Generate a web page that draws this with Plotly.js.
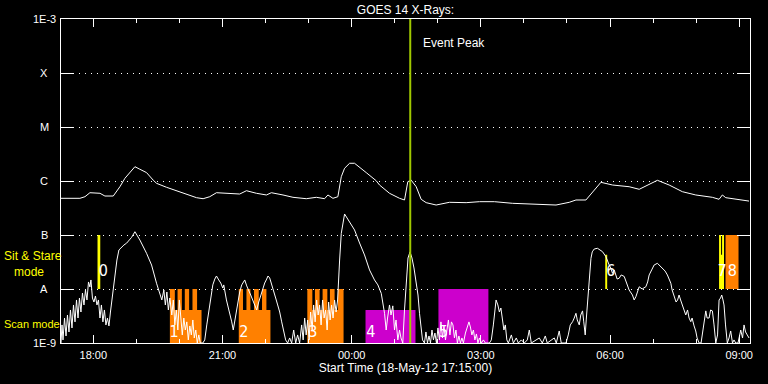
<!DOCTYPE html>
<html>
<head>
<meta charset="utf-8">
<script src="https://cdn.plot.ly/plotly-3.0.1.min.js"></script>
<style>html,body{margin:0;padding:0;background:#000;}#chart{width:768px;height:384px;}</style>
</head>
<body>
<div id="chart"></div>
<script>
// x values: minutes elapsed since the start time 18-May-12 17:15:00
const xTickVals = [45, 225, 405, 585, 765, 945];
const xTickText = ['18:00', '21:00', '00:00', '03:00', '06:00', '09:00'];
const yTickVals = [1e-9, 1e-8, 1e-7, 1e-6, 1e-5, 1e-4, 1e-3];
const yTickText = ['1E-9', 'A', 'B', 'C', 'M', 'X', '1E-3'];

// GOES 14 long channel (upper curve)
const longMin = [0,26.4,33.4,40.3,54.3,61.2,72.8,82.1,89.0,96.0,103.0,109.9,119.2,128.4,133.1,147.1,161.0,174.9,188.8,198.0,207.3,216.6,235.1,249.0,258.4,272.3,286.2,293.1,309.3,323.2,341.8,355.8,367.3,371.9,378.9,385.8,390.5,395.1,402.1,409.0,425.3,439.2,443.8,457.7,471.7,478.6,483.2,487.9,494.9,501.8,508.8,522.7,541.2,564.5,583.0,603.8,629.3,657.1,689.7,708.2,717.5,731.4,740.6,752.3,768.4,791.6,805.6,814.9,831.0,847.3,865.8,884.4,907.5,916.9,921.5,926.2,940.1,956.2,958.6];
const longFlux = [4.78e-7,4.78e-7,5.12e-7,6.07e-7,5.92e-7,5.27e-7,5.27e-7,7.84e-7,1.12e-6,1.43e-6,1.84e-6,1.65e-6,1.43e-6,1.04e-6,9.06e-7,7.64e-7,6.61e-7,5.74e-7,4.91e-7,4.70e-7,5.12e-7,6.07e-7,5.92e-7,5.74e-7,6.61e-7,5.92e-7,5.51e-7,6.07e-7,5.51e-7,4.99e-7,4.70e-7,4.99e-7,4.70e-7,5.51e-7,4.78e-7,5.12e-7,1.20e-6,1.72e-6,2.13e-6,2.13e-6,1.43e-6,1.01e-6,8.43e-7,5.92e-7,4.78e-7,4.45e-7,9.7e-7,1.04e-6,7.84e-7,4.58e-7,3.97e-7,3.59e-7,4.03e-7,3.97e-7,4.14e-7,4.14e-7,3.86e-7,3.75e-7,3.59e-7,4.03e-7,4.45e-7,4.45e-7,6.34e-7,9.46e-7,8.43e-7,7.84e-7,7.02e-7,8.07e-7,1.03e-6,8.43e-7,6.34e-7,5.51e-7,4.99e-7,4.58e-7,5.51e-7,4.91e-7,4.58e-7,4.31e-7,4.25e-7];

// GOES 14 short channel (lower curve)
const shortMin = [0,1.4,2.8,4.9,7.0,9.0,11.1,13.2,15.3,17.4,19.5,21.6,23.7,25.7,27.8,29.9,32.0,34.1,36.2,38.3,40.3,41.7,43.8,45.9,48.0,50.1,52.2,54.3,56.3,58.4,60.5,62.6,64.7,66.8,68.9,71.0,73.0,75.1,77.9,80.7,84.5,87.7,91.4,98.4,103.0,109.9,119.2,126.2,133.1,137.7,140.5,143.3,145.4,147.5,149.6,151.7,154.4,156.5,158.6,160.7,162.8,164.9,167.0,169.0,171.1,173.2,175.3,177.4,179.5,181.6,183.7,185.7,187.8,189.9,192.0,194.1,197.6,200.3,203.1,205.9,208.7,211.5,214.3,216.6,219.8,222.6,225.4,226.8,230.5,232.3,235.1,237.9,240.0,242.1,244.2,246.3,249.0,251.8,254.6,256.0,258.8,261.6,264.3,267.1,269.9,272.7,275.5,278.3,281.0,283.8,286.6,288.4,290.8,293.6,296.3,299.1,301.9,304.7,307.5,310.3,313.0,315.8,318.6,321.4,324.2,327.0,329.7,332.5,335.3,337.4,339.5,341.6,343.7,345.7,347.8,349.9,352.0,354.1,356.2,358.3,360.3,362.4,364.5,366.6,368.7,370.8,372.9,375.0,377.0,379.1,381.2,383.3,385.4,388.2,390.5,395.1,402.1,409.0,416.0,422.9,429.9,436.8,441.5,446.2,450.8,453.1,455.0,457.7,459.8,462.3,464.7,466.8,469.3,471.7,473.7,476.2,478.6,481.0,483.5,486.3,489.0,491.8,494.9,497.4,499.5,501.6,503.7,506.4,508.5,510.6,512.7,514.8,516.9,518.9,521.0,523.1,525.2,527.3,529.4,531.5,533.6,535.7,537.7,539.8,541.9,544.0,546.1,548.2,550.3,552.3,554.4,556.5,558.6,560.7,563.5,566.3,568.4,570.4,572.5,574.6,576.7,578.8,580.9,583.0,585.7,588.5,591.3,596.9,599.6,602.4,606.2,608.7,610.8,612.9,615.0,617.1,619.1,621.2,623.3,627.5,630.3,634.4,637.2,641.4,645.6,649.7,652.5,655.3,666.4,670.6,674.8,677.5,687.3,690.1,694.2,697.0,703.6,706.8,709.6,712.8,715.1,717.5,719.3,722.1,724.2,726.7,728.4,730.4,731.8,733.6,736.0,738.4,740.2,743.0,747.5,751.3,754.5,759.2,761.7,763.8,765.9,768.4,770.8,773.1,774.9,777.7,780.5,784.7,789.3,791.6,796.2,798.6,801.0,802.8,805.6,809.7,814.9,817.4,819.5,823.0,826.4,831.0,834.8,838.0,841.7,844.9,847.3,849.7,851.5,854.3,857.0,859.1,861.2,863.3,865.8,868.2,870.5,873.0,875.1,877.5,879.3,882.1,884.4,886.3,889.1,891.8,894.6,896.7,898.4,900.2,903.0,905.1,907.6,909.9,912.3,914.8,916.9,919.0,920.6,922.4,923.8,925.9,928.4,930.8,933.1,935.6,937.7,940.1,943.3,947.1,949.6,951.7,953.8,956.2,958.6];
const shortFlux = [1.0e-9,2.16e-9,1.14e-9,2.90e-9,1.35e-9,3.30e-9,1.60e-9,4.09e-9,1.90e-9,5.06e-9,2.46e-9,6.26e-9,2.90e-9,6.81e-9,3.75e-9,8.43e-9,5.06e-9,9.58e-9,6.26e-9,1.35e-8,1.09e-8,1.47e-8,6.81e-9,5.74e-9,7.42e-9,5.06e-9,6.26e-9,2.90e-9,5.06e-9,2.46e-9,4.09e-9,2.16e-9,2.90e-9,2.07e-9,3.75e-9,6.26e-9,9.58e-9,1.82e-8,3.44e-8,5.28e-8,6.07e-8,6.53e-8,7.06e-8,9.06e-8,1.15e-7,8.07e-8,4.58e-8,2.78e-8,1.28e-8,8.32e-9,6.26e-9,9.58e-9,5.06e-9,8.80e-9,4.09e-9,6.81e-9,3.30e-9,6.26e-9,2.16e-9,4.09e-9,1.74e-9,6.26e-9,2.67e-9,1.41e-9,2.90e-9,1.74e-9,2.46e-9,1.14e-9,2.07e-9,1.41e-9,2.67e-9,1.24e-9,1.74e-9,1.0e-9,1.41e-9,1.0e-9,1.0e-9,1.14e-9,2.16e-9,4.09e-9,7.74e-9,1.19e-8,1.53e-8,1.74e-8,1.47e-8,1.29e-8,1.04e-8,1.19e-8,6.26e-9,5.06e-9,3.55e-9,2.46e-9,1.74e-9,2.67e-9,4.09e-9,6.26e-9,8.80e-9,1.19e-8,1.35e-8,1.47e-8,1.14e-8,9.58e-9,7.74e-9,6.26e-9,5.06e-9,4.09e-9,5.74e-9,7.74e-9,1.04e-8,1.29e-8,1.53e-8,1.74e-8,1.60e-8,1.24e-8,9.58e-9,6.81e-9,5.06e-9,3.75e-9,2.46e-9,1.60e-9,1.14e-9,1.0e-9,1.24e-9,1.0e-9,1.74e-9,1.0e-9,1.41e-9,1.0e-9,2.16e-9,1.14e-9,2.90e-9,1.41e-9,2.67e-9,1.14e-9,3.75e-9,1.74e-9,5.06e-9,2.46e-9,6.26e-9,3.30e-9,5.06e-9,2.16e-9,6.26e-9,2.90e-9,4.09e-9,1.74e-9,5.74e-9,2.67e-9,5.06e-9,2.90e-9,6.26e-9,3.75e-9,6.26e-9,3.44e-8,1.07e-7,2.45e-7,1.74e-7,1.24e-7,7.11e-8,4.27e-8,2.25e-8,1.47e-8,1.19e-8,8.32e-9,3.55e-9,1.74e-9,2.90e-9,5.06e-9,3.30e-9,4.87e-9,1.74e-9,2.67e-9,1.14e-9,1.74e-9,1.24e-9,1.0e-9,4.09e-9,1.47e-8,3.75e-8,4.87e-8,3.75e-8,2.45e-8,1.37e-8,7.74e-9,3.55e-9,1.90e-9,1.14e-9,1.0e-9,1.60e-9,1.0e-9,1.35e-9,1.0e-9,1.74e-9,1.14e-9,1.53e-9,1.0e-9,1.90e-9,1.14e-9,2.46e-9,1.24e-9,2.07e-9,1.14e-9,1.74e-9,2.67e-9,1.41e-9,2.46e-9,2.16e-9,1.24e-9,1.74e-9,1.0e-9,1.35e-9,1.0e-9,1.24e-9,1.0e-9,1.53e-9,2.16e-9,2.46e-9,1.98e-9,1.41e-9,1.74e-9,1.14e-9,1.47e-9,1.0e-9,1.24e-9,1.0e-9,1.14e-9,1.0e-9,1.0e-9,1.14e-9,2.16e-9,6.26e-9,5.06e-9,3.75e-9,4.45e-9,2.67e-9,1.74e-9,2.16e-9,1.14e-9,1.0e-9,1.41e-9,1.0e-9,1.24e-9,1.0e-9,1.14e-9,1.0e-9,1.14e-9,1.74e-9,1.0e-9,1.24e-9,1.0e-9,1.35e-9,1.0e-9,1.24e-9,1.0e-9,1.67e-9,1.0e-9,1.0e-9,1.41e-9,2.16e-9,2.48e-9,2.90e-9,3.55e-9,2.67e-9,2.16e-9,3.30e-9,3.93e-9,2.46e-9,1.41e-9,2.67e-9,6.02e-9,1.47e-8,3.70e-8,4.87e-8,5.51e-8,5.67e-8,5.28e-8,4.91e-8,3.97e-8,3.16e-8,2.78e-8,2.45e-8,1.95e-8,2.25e-8,1.82e-8,1.53e-8,1.58e-8,1.82e-8,1.71e-8,1.10e-8,9.58e-9,7.74e-9,6.26e-9,7.20e-9,8.80e-9,1.10e-8,1.0e-8,1.10e-8,1.35e-8,1.82e-8,2.25e-8,2.78e-8,2.99e-8,2.67e-8,2.42e-8,2.15e-8,1.82e-8,1.47e-8,1.28e-8,9.58e-9,7.20e-9,5.74e-9,6.26e-9,7.74e-9,6.26e-9,5.06e-9,3.75e-9,3.30e-9,4.09e-9,2.90e-9,2.48e-9,2.90e-9,2.07e-9,1.67e-9,1.24e-9,1.0e-9,1.0e-9,1.74e-9,2.67e-9,3.93e-9,2.90e-9,2.90e-9,4.09e-9,3.93e-9,2.16e-9,1.0e-9,1.41e-9,6.26e-9,6.81e-9,7.74e-9,6.26e-9,5.06e-9,2.16e-9,1.0e-9,1.24e-9,1.67e-9,1.0e-9,1.14e-9,1.0e-9,1.0e-9,1.74e-9,1.24e-9,2.16e-9,1.60e-9,1.41e-9,1.24e-9];

// Scan-mode rasters (orange): start, end, top flux (all from 1E-9)
const scanStart = [151.7,151.7,162.4,172.5,183.2, 247.7,247.7,258.4,268.9,280.1, 343.2,343.2,353.8,364.5,374.7,385.8];
const scanEnd   = [195.8,158.6,168.4,178.5,189.6, 291.8,253.6,263.9,275.5,286.2, 393.7,350.2,360.3,371.1,381.2,393.7];
const scanTop   = [4.1e-9,1e-8,1e-8,1e-8,1e-8, 4.1e-9,1e-8,1e-8,1e-8,1e-8, 4.1e-9,1e-8,1e-8,1e-8,1e-8,1e-8];
// Scan-mode rasters (magenta)
const rasterStart = [424.3, 525.9];
const rasterEnd   = [493.9, 595.5];
const rasterTop   = [4.1e-9, 1e-8];
// Sit & stare (yellow)
const sitStart  = [50.9, 758.3, 916.9, 919.7, 921.1];
const sitEnd    = [54.7, 761.0, 919.7, 921.1, 923.8];
const sitBottom = [1e-8, 1e-8, 1e-8, 1e-8, 1e-8];
const sitTop    = [1e-7, 4.3e-8, 1e-7, 4.3e-8, 1e-7];
// Sit & stare (orange)
const sitOrStart = [925.9], sitOrEnd = [944.0], sitOrBottom = [1e-8], sitOrTop = [1e-7];

// Observation numbers
const obsLabel = ['0','1','2','3','4','5','6','7','8'];
const obsMin   = [58.9,157.5,254.8,351.0,431.7,533.1,766.2,921.0,935.5];
const obsFlux  = [2.09e-8,1.5e-9,1.5e-9,1.55e-9,1.53e-9,1.53e-9,2.09e-8,2.09e-8,2.09e-8];

const eventPeakMin = 486.6;

function rects(s, e, b, t) {
  const x = [], y = [];
  for (let i = 0; i < s.length; i++) {
    const bot = Array.isArray(b) ? b[i] : b;
    x.push(s[i], e[i], e[i], s[i], s[i], null);
    y.push(bot, bot, t[i], t[i], bot, null);
  }
  return {x, y};
}
function fillTrace(r, color) {
  return {x: r.x, y: r.y, type: 'scatter', mode: 'lines', fill: 'toself', fillcolor: color,
          line: {width: 0, color: color}, hoverinfo: 'skip', connectgaps: false};
}

const floor = 1e-9;
const traces = [
  fillTrace(rects(scanStart, scanEnd, floor, scanTop), '#ff8000'),
  fillTrace(rects(rasterStart, rasterEnd, floor, rasterTop), '#cc00cc'),
  fillTrace(rects(sitStart, sitEnd, sitBottom, sitTop), '#ffff00'),
  fillTrace(rects(sitOrStart, sitOrEnd, sitOrBottom, sitOrTop), '#ff8000'),
  {x: longMin, y: longFlux, type: 'scatter', mode: 'lines', line: {color: '#ffffff', width: 1}},
  {x: shortMin, y: shortFlux, type: 'scatter', mode: 'lines', line: {color: '#ffffff', width: 1}},
  {x: [eventPeakMin, eventPeakMin], y: [1e-9, 1e-3], type: 'scatter', mode: 'lines', line: {color: '#a0c800', width: 2}},
  {x: obsMin, y: obsFlux, text: obsLabel, type: 'scatter', mode: 'text', textposition: 'middle center',
   textfont: {family: 'Liberation Sans Narrow, DejaVu Sans Condensed, Liberation Sans, sans-serif', size: 16, color: '#ffffff'}, cliponaxis: false}
];

const annotations = yTickVals.map((v, i) => ({
  xref: 'paper', x: -17 / 689, xanchor: 'center', yref: 'y', y: Math.log10(v), yanchor: 'middle',
  text: yTickText[i], showarrow: false, font: {size: 11, color: '#ffffff'}
}));
annotations.push(
  {xref: 'x', x: eventPeakMin, xshift: 11, xanchor: 'left', yref: 'paper', y: 0.926, yanchor: 'middle',
   text: 'Event Peak', showarrow: false, font: {size: 12, color: '#ffffff'}},
  {xref: 'paper', x: -0.0856, xanchor: 'left', yref: 'paper', y: 0.2423, yanchor: 'middle', align: 'left',
   text: 'Sit &amp; Stare<br>&nbsp;&nbsp;&nbsp;mode', showarrow: false, font: {size: 12, color: '#ffff00'}},
  {xref: 'paper', x: -0.0861, xanchor: 'left', yref: 'paper', y: 0.0586, yanchor: 'middle',
   text: 'Scan mode', showarrow: false, font: {size: 11, color: '#ffff00'}}
);

const layout = {
  width: 768, height: 384,
  paper_bgcolor: '#000000', plot_bgcolor: '#000000',
  margin: {l: 61, r: 18, t: 19, b: 41},
  showlegend: false,
  font: {family: 'Liberation Sans, Arial, sans-serif', color: '#ffffff', size: 12},
  title: {text: 'GOES 14 X-Rays:', x: 0.5, xref: 'paper', xanchor: 'center', y: 1 - 9.5 / 384, yref: 'container', yanchor: 'middle', font: {size: 12, color: '#ffffff'}},
  xaxis: {
    range: [0, 960], tickmode: 'array', tickvals: xTickVals, ticktext: xTickText,
    ticks: 'inside', ticklen: 8, tickcolor: '#ffffff', tickwidth: 1,
    showline: true, linecolor: '#ffffff', linewidth: 1, mirror: 'ticks',
    showgrid: false, zeroline: false, tickfont: {size: 11, color: '#ffffff'},
    ticklabelstandoff: 2,
    minor: {tickmode: 'linear', tick0: 45, dtick: 60, ticks: 'inside', ticklen: 4, tickcolor: '#ffffff', showgrid: false},
    title: {text: 'Start Time (18-May-12 17:15:00)', font: {size: 12, color: '#ffffff'}, standoff: 2}
  },
  yaxis: {
    type: 'log', range: [-9, -3], tickmode: 'array', tickvals: yTickVals, ticktext: yTickText,
    showticklabels: false,
    ticks: 'inside', ticklen: 13, tickcolor: '#ffffff', tickwidth: 1,
    showline: true, linecolor: '#ffffff', linewidth: 1, mirror: 'ticks',
    showgrid: true, gridcolor: '#ffffff', gridwidth: 1, griddash: '1px,5px', zeroline: false
  },
  annotations: annotations
};

Plotly.newPlot('chart', traces, layout, {staticPlot: true, displayModeBar: false});
</script>
</body>
</html>
